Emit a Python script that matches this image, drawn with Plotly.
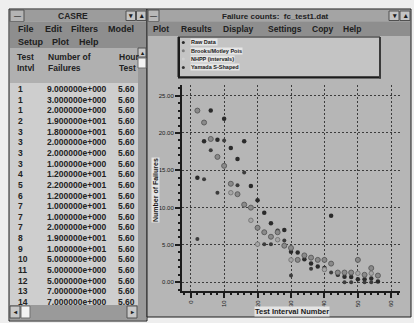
import plotly.graph_objects as go

W, H = 414, 323


def px(x):
    return x / W


def py(y):
    return 1 - y / H


# ---------------- data ----------------
intervals = [2, 4, 6, 8, 10, 12, 14, 16, 18, 20, 22, 24, 26, 28,
             30, 32, 34, 36, 38, 40, 42, 44, 46, 48, 50, 52, 54, 56]
raw_data = [14.0, 18.9, 23.0, 19.1, 21.9, 18.0, 16.5, 18.9, 12.9, 11.0, 9.3, 7.9, 6.9, 7.0,
            4.1, 4.0, 3.1, 2.5, 2.1, 1.9, 8.9, 1.0, 0.75, 0.7, 0.4, 0.4, 0.5, 0.1]
brooks_motley = [23.0, 21.4, 19.2, 16.8, 15.6, 13.2, 11.8, 10.4, 10.0, 7.3, 6.7, 6.1, 6.7, 4.9,
                 4.6, 3.0, 3.6, 3.3, 3.0, 3.0, 2.5, 1.3, 1.3, 1.3, 3.0, 1.0, 1.9, 0.9]
nhpp = [None, None, None, None, None, 12.0, None, None, 8.3, 5.1, None, None, 5.7, None,
        3.0, None, None, None, None, 1.7, None, None, None, None, 1.2, None, 1.2, None]
yamada = [5.8, 13.8, 17.7, 12.0, 19.0, None, 13.0, 14.7, None, None, 5.1, 5.1, None, 5.6,
          0.9, None, None, 1.8, None, None, 1.3, None, 0.0, 0.0, None, 0.0, 0.0, None]

series_names = ["Raw Data", "Brooks/Motley Pois", "NHPP (intervals)", "Yamada S-Shaped"]

x_tick_vals = [0, 10, 20, 30, 40, 50, 60]
y_tick_vals = [0, 5, 10, 15, 20, 25]

test_intvl = [1, 1, 1, 2, 3, 3, 3, 3, 4, 5, 6, 7, 7, 7, 8, 9, 10, 11, 12, 13, 14]
num_failures = [9, 3, 2, 19, 18, 2, 2, 1, 12, 22, 12, 10, 1, 2, 19, 10, 5, 5, 5, 7, 7]
hours_test = ["5.60"] * 21

table_headers = ["Test<br>Intvl", "Number of<br>Failures", "Hour<br>Test"]
left_menu_row1 = ["File", "Edit", "Filters", "Model"]
left_menu_row2 = ["Setup", "Plot", "Help"]
right_menu = ["Plot", "Results", "Display", "Settings", "Copy", "Help"]
left_title = "CASRE"
right_title = "Failure counts:  fc_test1.dat"


def sci(v):
    m, e = f"{v:.6e}".split("e")
    return f"{m}e{int(e):+04d}"


# ---------------- style ----------------
FONT = "Liberation Sans, Arial, sans-serif"
TXT = "#222222"
DARK = "#1c1c1c"

shapes = []
annotations = []


def rect(x0, y0, x1, y1, fill, line=None, lw=1, layer="below"):
    shapes.append(dict(type="rect", xref="paper", yref="paper",
                       x0=px(x0), x1=px(x1), y0=py(y1), y1=py(y0),
                       fillcolor=fill, layer=layer,
                       line=dict(color=line or fill, width=lw if line else 0)))


def text(x, y, s, size=8, anchor="left", color=TXT, bold=True, bg=None, angle=0):
    annotations.append(dict(xref="paper", yref="paper", x=px(x), y=py(y),
                            text=f"<b>{s}</b>" if bold else s, showarrow=False,
                            xanchor=anchor, yanchor="middle", textangle=angle,
                            font=dict(family=FONT, size=size, color=color),
                            bgcolor=bg, borderpad=0))


# outer frames
rect(9, 9, 147, 321, "#c8c8c8", DARK, 1)
rect(147, 9, 411, 317, "#b6b6b6", DARK, 1)

# ---- left window ----
rect(10, 10, 146, 21.5, "#9c9c9c")
rect(10, 10, 24, 21.5, "#b4b4b4", "#505050", 1)
rect(126, 11, 135.5, 20.5, "#c4c4c4", "#505050", 1)
rect(136.5, 11, 146, 20.5, "#c4c4c4", "#505050", 1)
text(17, 15.7, "—", 7, "center", "#404040")
text(130.7, 15.7, "▾", 7, "center", DARK)
text(141.2, 15.7, "▴", 7, "center", DARK)
text(73, 15.7, left_title, 8.5, "center")
rect(10, 21.5, 146, 48, "#8e8e8e")
for lbl, xx in zip(left_menu_row1, [17, 44, 70, 107]):
    text(xx, 29.5, lbl, 9, color="#202020")
for lbl, xx in zip(left_menu_row2, [17, 51, 78]):
    text(xx, 42, lbl, 9, color="#202020")
rect(10, 48, 138, 83, "#b0b0b0")
rect(10, 83, 138, 305, "#cecece")
for lbl, xx in zip(table_headers, [15, 46, 117]):
    annotations.append(dict(xref="paper", yref="paper", x=px(xx), y=py(50),
                            text=f"<b>{lbl}</b>", showarrow=False, align="left",
                            xanchor="left", yanchor="top",
                            font=dict(family=FONT, size=8.5, color=TXT)))
for i, (t, n, h) in enumerate(zip(test_intvl, num_failures, hours_test)):
    yy = 89 + i * 10.65
    text(17, yy, str(t), 8.5)
    text(46, yy, sci(n), 8.5)
    text(117, yy, h, 8.5)
# vertical scrollbar
rect(138, 48, 146, 305, "#9a9a9a")
rect(138, 48, 146, 57, "#c8c8c8", "#505050", 1)
text(142, 52.5, "▴", 6, "center", DARK)
rect(138, 58, 146, 68, "#f2f2f2", "#707070", 1)
# horizontal scrollbar
rect(10, 305, 146, 320, "#9a9a9a")
rect(10, 306, 20, 318, "#c8c8c8", "#505050", 1)
text(15, 312, "◂", 6, "center", DARK)
rect(21, 306, 30, 318, "#f2f2f2", "#707070", 1)
rect(127, 306, 137, 318, "#c8c8c8", "#505050", 1)
text(132, 312, "▸", 6, "center", DARK)

# ---- right window ----
rect(148, 10, 410, 21.5, "#a4a4a4")
rect(148, 10, 159, 21.5, "#b8b8b8", "#505050", 1)
text(153.5, 15.7, "—", 7, "center", "#404040")
rect(389, 11, 399, 20.5, "#c4c4c4", "#505050", 1)
rect(400, 11, 410, 20.5, "#c4c4c4", "#505050", 1)
text(394, 15.7, "▾", 7, "center", DARK)
text(405, 15.7, "▴", 7, "center", DARK)
text(275, 16, right_title, 8, "center")
rect(148, 21.5, 410, 36, "#8e8e8e")
for lbl, xx in zip(right_menu, [152, 180, 222, 267, 311, 342]):
    text(xx, 29.5, lbl, 8.5, color="#202020")
# legend box
rect(178, 37, 380, 77, "#c4c4c4", DARK, 1)
rect(178, 37, 180, 78, DARK)
rect(178, 76.5, 381, 78.5, DARK)
rect(379, 37, 381, 78.5, "#3a3a3a")

legend_colors = ["#2a2a2a", "#7e7e7e", "#cfcfcf", "#333333"]
for i, (name, col) in enumerate(zip(series_names, legend_colors)):
    yy = 42.5 + i * 8.3
    shapes.append(dict(type="circle", xref="paper", yref="paper",
                       x0=px(181.8), x1=px(184.8), y0=py(yy + 1.5), y1=py(yy - 1.5),
                       fillcolor=col, line=dict(width=0), layer="above"))
    text(189.5, yy, name, 5.5, color="#202020", bg="#e6e6e6")

# axis titles
text(155, 190, "Number of Failures", 7, "center", "#1a1a1a", bg="#e4e4e4", angle=-90)
text(292, 311, "Test Interval Number", 7.5, "center", "#1a1a1a", bg="#e4e4e4")

# ---------------- traces ----------------
fig = go.Figure()
styles = [
    dict(color="#2a2a2a", size=4.5, line=dict(width=0)),
    dict(color="#8a8a8a", size=5, line=dict(color="#5e5e5e", width=1)),
    dict(color="#a6a6a6", size=4.5, line=dict(color="#7a7a7a", width=1)),
    dict(color="#3c3c3c", size=4, line=dict(width=0)),
]
for name, ys, st in zip(series_names, [raw_data, brooks_motley, nhpp, yamada], styles):
    fig.add_trace(go.Scatter(x=intervals, y=ys, mode="markers", name=name,
                             marker=st, showlegend=False, cliponaxis=False))

grid_style = dict(showgrid=True, griddash="2px,2px", gridcolor="#3c3c3c", gridwidth=1.3)

fig.update_layout(
    width=W, height=H, autosize=False,
    margin=dict(l=0, r=0, t=0, b=0),
    paper_bgcolor="#eeeeee", plot_bgcolor="rgba(0,0,0,0)",
    shapes=shapes, annotations=annotations,
    font=dict(family=FONT, color=TXT),
    xaxis=dict(domain=[px(182), px(400)], range=[-2.6, 62.6],
               tickvals=x_tick_vals, ticktext=[str(v) for v in x_tick_vals],
               tickangle=-90, tickfont=dict(size=6, color="#1a1a1a"),
               ticks="outside", ticklen=5, tickwidth=1.5, tickcolor=DARK,
               showline=True, linewidth=2, linecolor=DARK,
               zeroline=False, fixedrange=True,
               minor=dict(dtick=2, ticks="outside", ticklen=2, tickcolor=DARK, showgrid=False),
               **grid_style),
    yaxis=dict(domain=[py(291), py(85)], range=[-1.17, 26.43],
               tickvals=y_tick_vals, tickformat=".2f",
               tickfont=dict(size=6, color="#1a1a1a"),
               ticks="outside", ticklen=5, tickwidth=1.5, tickcolor=DARK,
               showline=True, linewidth=2, linecolor=DARK,
               zeroline=False, fixedrange=True,
               minor=dict(dtick=1, ticks="outside", ticklen=2, tickcolor=DARK, showgrid=False),
               **grid_style),
)

fig.write_html("out.html", config={"displayModeBar": False},
               post_script="document.body.style.margin='0';document.body.style.overflow='hidden';")
